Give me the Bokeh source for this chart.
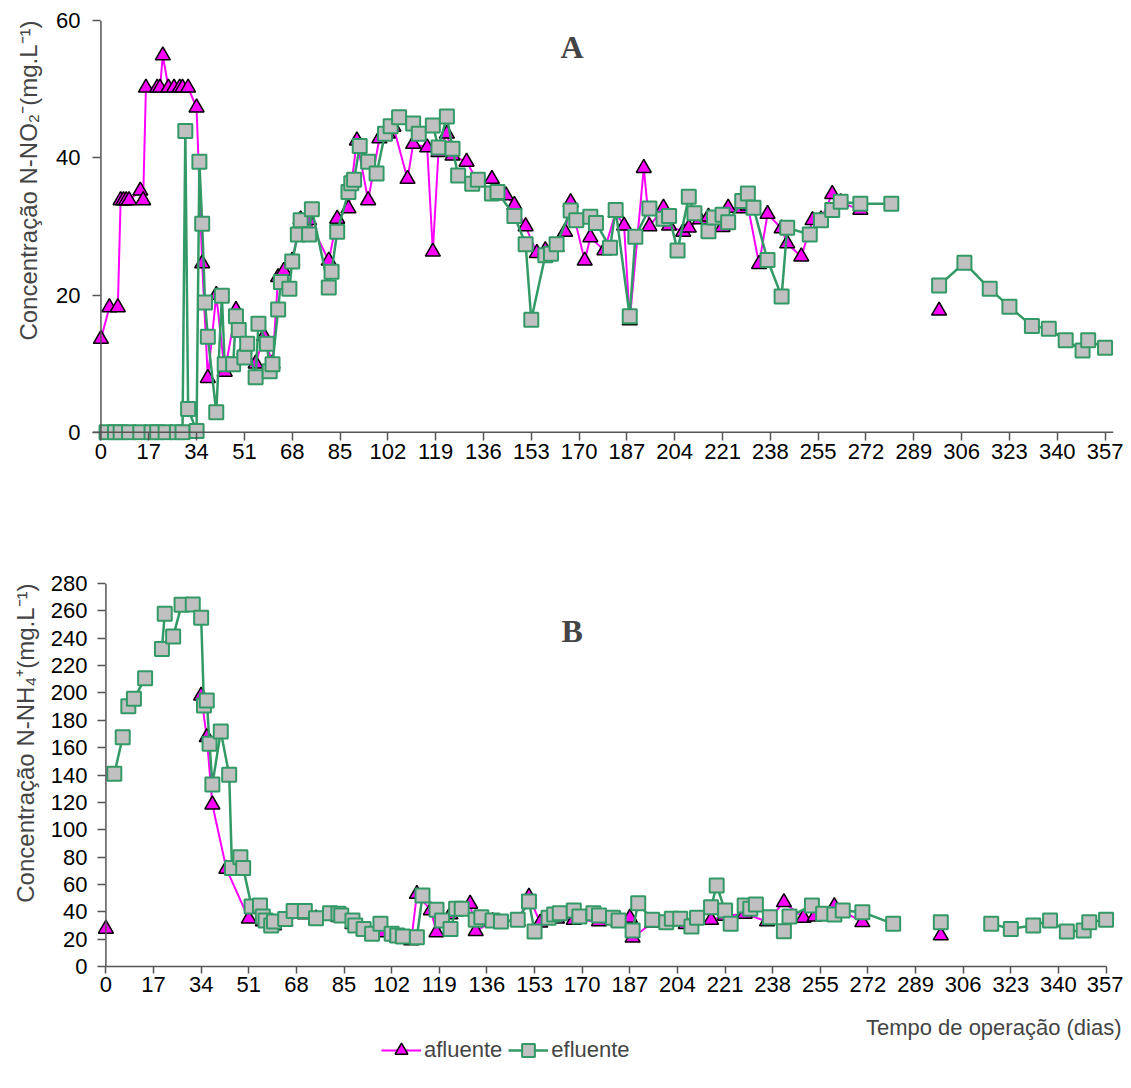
import numpy as np
from bokeh.plotting import figure
from bokeh.models import Range1d, FixedTicker, Label, Legend, LegendItem, Span, Title
from bokeh.layouts import column
from bokeh.embed import file_html
from bokeh.resources import INLINE

# ---------------- data ----------------
x_ticks = list(range(0, 358, 17))
yA_ticks = [0, 20, 40, 60]
yB_ticks = list(range(0, 281, 20))

# Panel A : N-NO2
a_days_A = [0, 3, 6, 7, 8, 9, 10, 14, 15, 16, 20, 21, 22, 24, 26, 28, 29, 31, 34, 36,
            38, 41, 44, 48, 51, 55, 58, 61, 63, 65, 68, 71, 74, 81, 84, 88, 91, 95, 99, 102,
            104, 109, 111, 116, 118, 120, 123, 125, 130, 134, 139, 144, 147, 151, 155, 158, 162, 165, 167, 172,
            174, 179, 183, 186, 188, 193, 195, 200, 202, 207, 209, 213, 216, 221, 223, 228, 230, 234, 237, 242,
            244, 249, 253, 256, 260, 263, 270, None, 298]
a_vals_A = [13.6, 18.2, 18.2, 33.8, 33.8, 33.8, 33.8, 35.2, 33.8, 50.2, 50.2, 50.2, 54.9, 50.2, 50.2, 50.2, 50.2, 50.2, 47.3, 24.6,
            7.9, 20.0, 8.8, 17.8, 12.0, 10.0, 14.0, 10.0, 22.6, 23.5, 25.0, 31.0, 30.9, 25.0, 31.1, 32.6, 42.5, 33.8, 42.8, 43.5,
            44.5, 36.9, 42.0, 41.5, 26.3, 40.8, 43.5, 40.3, 39.4, 36.5, 36.9, 34.5, 33.1, 30.0, 26.1, 26.5, 27.0, 29.2, 33.5, 25.0,
            28.4, 26.5, 32.0, 30.1, 16.3, 38.5, 30.0, 32.7, 30.1, 29.2, 29.8, 31.0, 31.4, 29.9, 32.7, 32.6, 33.0, 24.5, 31.8, 29.7,
            27.5, 25.6, 30.9, 31.0, 34.7, 33.5, 32.4, None, 17.7]

e_days_A = [2, 5, 7, 10, 14, 18, 20, 23, 27, 29,
            30, 31, 34, 35, 36, 37, 38, 41, 43, 44,
            47, 48, 49, 51, 52, 55, 56, 59, 60, 61,
            63, 64, 67, 68, 70, 71, 74, 75, 81, 82,
            84, 88, 89, 90, 92, 95, 98, 101, 103, 106,
            111, 113, 118, 120, 123, 125, 127, 132, 134, 139,
            141, 147, 151, 153, 158, 160, 162, 167, 169, 174,
            176, 181, 183, 188, 190, 195, 200, 202, 205, 209,
            211, 216, 218, 221, 223, 228, 230, 232, 237, 242,
            244, 252, 256, 260, 263, 270, 281, None, 298, 307,
            316, 323, 331, 337, 343, 349, 351, 357]
e_vals_A = [0, 0, 0, 0, 0, 0, 0, 0, 0, 0,
            43.9, 3.4, 0.2, 39.4, 30.4, 18.9, 13.9, 2.9, 19.9, 9.9,
            9.9, 16.9, 14.9, 10.9, 12.9, 8.0, 15.8, 12.9, 8.9, 9.9,
            17.9, 21.9, 20.9, 24.9, 28.8, 30.9, 28.8, 32.5, 21.1, 23.4,
            29.2, 35.0, 36.3, 36.8, 41.7, 39.4, 37.7, 43.5, 44.6, 45.9,
            45.0, 43.5, 44.7, 41.5, 46.0, 41.3, 37.4, 36.2, 36.8, 34.8,
            35.0, 31.5, 27.4, 16.4, 25.8, 26.0, 27.4, 32.3, 30.9, 31.4,
            30.5, 26.9, 32.4, 16.9, 28.5, 32.6, 31.1, 31.5, 26.5, 34.3,
            31.9, 29.3, 31.3, 31.7, 30.6, 33.7, 34.8, 32.7, 25.1, 19.8,
            29.8, 28.8, 30.9, 32.4, 33.6, 33.3, 33.3, None, 21.4, 24.7,
            20.9, 18.3, 15.5, 15.1, 13.4, 11.9, 13.4, 12.3]

# Panel B : N-NH4
a_days_B = [0, None, 34, 36, 38, 43, 51, 56, 60, 64,
            71, 75, 83, 88, 92, 98, 104, 109, 111, 116,
            118, 123, 130, 132, 138, 147, 151, 155, 161, 167,
            176, 183, 187, 188, 195, 200, 207, 216, 221, 228,
            236, 242, 249, 253, 260, 270, None, 298]
a_vals_B = [27.5, None, 198, 167.6, 118.4, 71.4, 34.9, 33, 30, 33,
            38, 35, 36, 31, 26, 25, 21, 19, 53, 41,
            25, 38, 45.8, 25.8, 33, 33, 51, 32, 35, 34,
            33, 32, 35.6, 21, 32, 33, 31, 34, 37, 38.5,
            33, 47, 35.6, 36.5, 44, 32.4, None, 22.7]

e_days_B = [3, 6, None, 8, 10, 14, None, 20, 21, None,
            24, 27, 31, 34, 35, 36, 37, 38, 41, 44,
            45, 48, 49, 52, 55, 56, 57, 59, 60, 64,
            67, 71, 75, 80, 83, 84, 88, 89, 92, 95,
            98, 102, 104, 106, 111, 113, 118, 120, 123, 125,
            127, 132, 134, 138, 141, 147, 151, 153, 158, 160,
            162, 167, 169, 174, 176, 181, 183, 188, 190, 195,
            200, 202, 205, 209, 211, 216, 218, 221, 223, 228,
            230, 232, 237, 242, 244, 252, 256, 260, 263, 270,
            281, None, 298, None, 316, 323, 331, 337, 343, 349,
            351, 357]
e_vals_B = [140.9, 167.6, None, 190.3, 195.7, 210.8, None, 232.2, 257.8, None,
            241.2, 264.4, 264.6, 254.9, 190.8, 194.4, 162.8, 133.0, 171.8, 140.1,
            72.1, 79.9, 72.1, 43.9, 44.6, 36.5, 33.6, 30.0, 32.9, 34.8,
            40.5, 40.5, 35.3, 39.0, 38.5, 37.3, 33.6, 30.0, 27.5, 23.9,
            31.2, 23.9, 22.7, 21.9, 21.4, 51.9, 41.4, 33.6, 27.5, 42.2,
            42.2, 34.1, 36.0, 33.6, 32.9, 34.1, 47.5, 25.6, 35.6, 38.0,
            39.0, 40.9, 36.5, 39.0, 37.3, 35.6, 33.6, 26.3, 46.3, 34.1,
            32.4, 34.9, 34.9, 29.2, 35.6, 43.3, 59.2, 40.9, 31.2, 44.6,
            42.2, 45.3, 36.0, 25.8, 36.5, 44.6, 38.5, 38.0, 40.9, 39.7,
            31.2, None, 32.4, None, 31.2, 27.5, 30.0, 33.6, 25.6, 26.3,
            32.4, 34.1]

label_yA = "Concentração N-NO\u2082\u207b(mg.L\u207b\u00b9)"
label_yB = "Concentração N-NH\u2084\u207a(mg.L\u207b\u00b9)"
label_x = "Tempo de operação (dias)"
series_names = ["afluente", "efluente"]


def arr(v):
    return np.array([np.nan if x is None else x for x in v], dtype=float)


FONT = "Liberation Sans"
MAG = "#FF00FF"
GRN = "#339966"
GRY = "#C0C0C0"
AX = "#555555"
FS = "22px"
W = 1123


def style_axis(ax):
    ax.major_tick_line_color = AX
    ax.major_tick_line_width = 1.5
    ax.minor_tick_line_color = None
    ax.major_label_text_font = FONT
    ax.major_label_text_font_size = FS
    ax.major_label_text_color = "black"


def base_fig(height, ml, mr, mt, mb, yr, yticks, ystand):
    p = figure(width=W, height=height, x_range=Range1d(-3, 360), y_range=yr,
               output_backend="svg", toolbar_location=None, title=None, frame_align=False,
               min_border_left=ml, min_border_right=mr, min_border_top=mt, min_border_bottom=mb)
    p.grid.visible = False
    p.outline_line_color = None
    style_axis(p.xaxis[0])
    style_axis(p.yaxis[0])
    p.xaxis.ticker = FixedTicker(ticks=x_ticks)
    p.yaxis.ticker = FixedTicker(ticks=yticks)
    # y axis: line drawn as a span at day 0, ticks reach from frame edge to it
    p.yaxis.axis_line_color = None
    p.yaxis.major_tick_out = 0
    p.yaxis.major_tick_in = 8
    p.yaxis.major_label_standoff = ystand
    p.add_layout(Span(location=0, dimension="height", line_color=AX, line_width=1.5))
    return p


def draw(p, ad, av, ed, ev, **kw):
    ax_, ay_ = arr(ad), arr(av)
    ex_, ey_ = arr(ed), arr(ev)
    l1 = p.line(ax_, ay_, line_color=MAG, line_width=2, **kw)
    s1 = p.scatter(ax_, ay_, marker="triangle", size=15, fill_color=MAG,
                   line_color="black", line_width=1.5, **kw)
    l2 = p.line(ex_, ey_, line_color=GRN, line_width=2.5, **kw)
    s2 = p.scatter(ex_, ey_, marker="square", size=14, fill_color=GRY,
                   line_color=GRN, line_width=2, **kw)
    return l1, s1, l2, s2


def y_title(text, standoff):
    return Title(text=text, align="right", vertical_align="bottom", offset=0, standoff=standoff,
                 text_font=FONT, text_font_size="24px", text_font_style="normal")


# ---------------- Panel A ----------------
pA = base_fig(488, 92, 10, 20, 48, Range1d(-1.2, 60), yA_ticks, 12)
pA.xaxis.axis_line_color = None
pA.xaxis.major_tick_out = 0
pA.xaxis.major_tick_in = 8
pA.xaxis.major_label_standoff = 3
pA.add_layout(Span(location=0, dimension="width", line_color=AX, line_width=1.5))
draw(pA, a_days_A, a_vals_A, e_days_A, e_vals_A)
pA.add_layout(Label(x=167.5, y=56.2, text="A", text_font="Liberation Serif",
                    text_font_style="bold", text_font_size="32px",
                    text_align="center", text_baseline="middle"))
pA.add_layout(y_title(label_yA, 24), "left")

# ---------------- Panel B ----------------
pB = base_fig(514, 97, 9, 95, 36, Range1d(0, 280), yB_ticks, 10)
pB.xaxis.axis_line_color = AX
pB.xaxis.axis_line_width = 1.5
pB.xaxis.bounds = (0, 357)
pB.xaxis.major_tick_out = 7
pB.xaxis.major_tick_in = 0
pB.xaxis.major_label_standoff = 3
draw(pB, a_days_B, a_vals_B, e_days_B, e_vals_B)
pB.add_layout(Label(x=166.4, y=245.6, text="B", text_font="Liberation Serif",
                    text_font_style="bold", text_font_size="32px",
                    text_align="center", text_baseline="middle"))
pB.add_layout(y_title(label_yB, 18), "left")

# ---------------- footer: axis title and legend ----------------
pC = figure(width=W, height=80, x_range=Range1d(0, W), y_range=Range1d(0, 80),
            x_axis_location=None, y_axis_location=None, min_border=0, frame_align=False,
            output_backend="svg", toolbar_location=None, title=None)
pC.grid.visible = False
pC.outline_line_color = None
# legend renderers live on a range far outside the visible one, so only their
# legend swatches are seen
pC.extra_y_ranges = {"off": Range1d(5000, 5001)}
l1, s1, l2, s2 = draw(pC, a_days_B, a_vals_B, e_days_B, e_vals_B, y_range_name="off")
pC.add_layout(Label(x=1121, y=55, text=label_x, text_font=FONT, text_font_size=FS,
                    text_align="right", text_baseline="middle"))
legend = Legend(items=[LegendItem(label=series_names[0], renderers=[l1, s1]),
                       LegendItem(label=series_names[1], renderers=[l2, s2])],
                location=(381, 16), orientation="horizontal",
                glyph_width=40, glyph_height=32, label_standoff=3, spacing=6,
                padding=0, margin=0, border_line_color=None, background_fill_alpha=0,
                label_text_font=FONT, label_text_font_size=FS)
pC.add_layout(legend)

layout = column(pA, pB, pC, spacing=0)
open("out.html", "w").write(file_html(layout, INLINE))
